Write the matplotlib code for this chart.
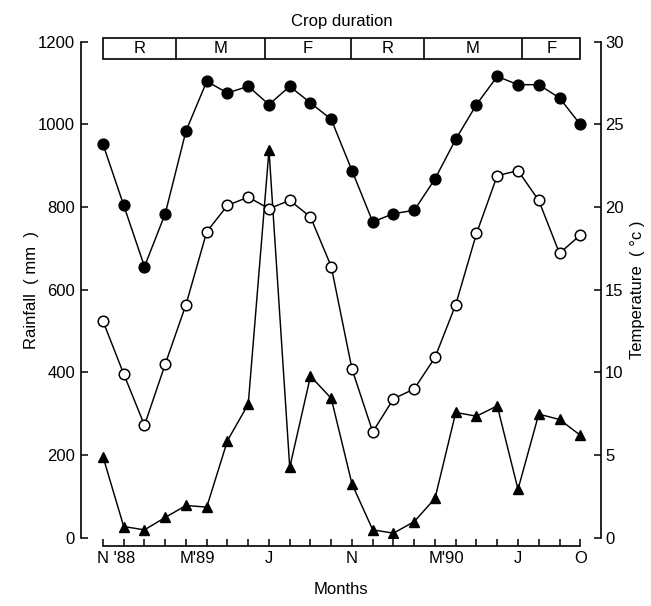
import matplotlib
matplotlib.use("Agg")
import matplotlib.pyplot as plt
import matplotlib.transforms as mtransforms
from matplotlib.patches import Rectangle

plt.rcParams.update({
    "font.family": ["Liberation Sans", "DejaVu Sans"],
    "font.size": 12,
})

# months Nov '88 .. Oct '90
month_idx = list(range(24))
tick_labels = {0: "N '88", 4: "M'89", 8: "J", 12: "N", 16: "M'90", 20: "J", 23: "O"}

rainfall = [196, 27, 19, 49, 78, 74, 235, 323, 938, 170, 391, 337,
            130, 19, 11, 39, 95, 303, 294, 319, 117, 299, 286, 248]
temp_max = [23.8, 20.1, 16.4, 19.6, 24.6, 27.6, 26.9, 27.3, 26.2, 27.3, 26.3, 25.3,
            22.2, 19.1, 19.6, 19.8, 21.7, 24.1, 26.2, 27.9, 27.4, 27.4, 26.6, 25.0]
temp_min = [13.1, 9.9, 6.8, 10.5, 14.1, 18.5, 20.1, 20.6, 19.9, 20.4, 19.4, 16.4,
            10.2, 6.4, 8.4, 9.0, 10.9, 14.1, 18.4, 21.9, 22.2, 20.4, 17.2, 18.3]

# crop stages along the month axis
stage_names = ["R", "M", "F", "R", "M", "F"]
stage_bounds = [0, 3.5, 7.8, 11.95, 15.45, 20.2, 23]

fig = plt.figure(figsize=(6.51, 6.06), dpi=100)
ax = fig.add_axes([0.1244, 0.1127, 0.7988, 0.8185])
ax2 = ax.twinx()

lw = 1.05
ax.plot(month_idx, rainfall, color="black", lw=lw, marker="^", ms=7.8,
        mfc="black", mec="black", zorder=3)
ax2.plot(month_idx, temp_min, color="black", lw=lw, marker="o", ms=7.6,
         mfc="white", mec="black", mew=1.1, zorder=3)
ax2.plot(month_idx, temp_max, color="black", lw=lw, marker="o", ms=7.8,
         mfc="black", mec="black", zorder=3)

ax.set_xlim(-1.06, 24.0)
ax.set_ylim(0, 1200)
ax2.set_ylim(0, 30)

for a in (ax, ax2):
    a.spines["top"].set_visible(False)
ax.spines["right"].set_visible(False)
ax2.spines["left"].set_visible(False)
ax2.spines["bottom"].set_visible(False)
ax.spines["bottom"].set_position(("outward", 6.2))
ax.spines["bottom"].set_bounds(0, 23)

ax.set_yticks([0, 200, 400, 600, 800, 1000, 1200])
ax2.set_yticks([0, 5, 10, 15, 20, 25, 30])
ax.set_xticks(month_idx)
ax.set_xticklabels([tick_labels.get(i, "") for i in month_idx])

ax.tick_params(axis="y", direction="in", length=5, width=1.1, pad=4.3)
ax2.tick_params(axis="y", direction="in", length=5, width=1.1, pad=3)
ax.tick_params(axis="x", direction="in", length=5, width=1.1, pad=3.5)

shift = mtransforms.ScaledTranslation(-6 / 100, 0, fig.dpi_scale_trans)
for i, lab in zip(month_idx, ax.get_xticklabels()):
    if len(tick_labels.get(i, "")) > 1:
        lab.set_ha("left")
        lab.set_transform(lab.get_transform() + shift)

for a in (ax, ax2):
    for s in a.spines.values():
        s.set_linewidth(1.2)

ax.set_ylabel("Rainfall  ( mm  )", va="center")
ax.yaxis.set_label_coords(-0.096, 0.5)
ax2.set_ylabel("Temperature  ( °c )", va="center")
ax2.yaxis.set_label_coords(1.071, 0.5)
ax.set_xlabel("Months", va="center")
ax.xaxis.set_label_coords(0.5, -0.105)

# crop duration box
y0, y1 = 1158, 1210
ax.add_patch(Rectangle((stage_bounds[0], y0), stage_bounds[-1] - stage_bounds[0], y1 - y0,
                       fill=False, lw=1.2, ec="black", clip_on=False))
ax.vlines(stage_bounds[1:-1], y0, y1, colors="black", lw=1.2, clip_on=False)
for k, name in enumerate(stage_names):
    ax.text((stage_bounds[k] + stage_bounds[k + 1]) / 2, (y0 + y1) / 2, name,
            ha="center", va="center", fontsize=12, clip_on=False)
ax.text((stage_bounds[0] + stage_bounds[-1]) / 2, 1248, "Crop duration",
        ha="center", va="center", fontsize=12, clip_on=False)

fig.savefig("out.png", dpi=100, facecolor="white")
